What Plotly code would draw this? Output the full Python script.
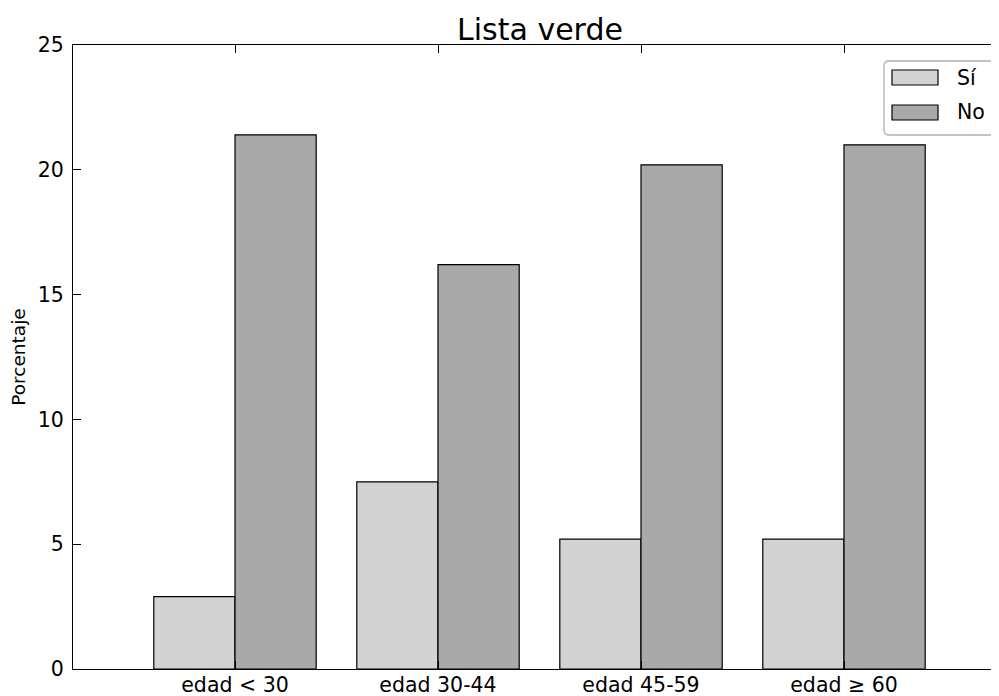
import plotly.graph_objects as go

categories = ["edad < 30", "edad 30-44", "edad 45-59", "edad ≥ 60"]
series_names = ["Sí", "No"]
si_values = [2.9, 7.5, 5.2, 5.2]
no_values = [21.4, 16.2, 20.2, 21.0]
y_ticks = [0, 5, 10, 15, 20, 25]
colors = ["#d3d3d3", "#a9a9a9"]

OFF = 8  # page body margin
W, H = 999 - OFF, 696 - OFF
L = 73 - OFF
T = 45 - OFF
B = H - (669 - OFF)
R = 0
PW, PH = W - L - R, H - T - B
FONT = "DejaVu Sans"
TICK_SIZE = 20.5

positions = list(range(len(categories)))

fig = go.Figure()
for name, vals, col in zip(series_names, [si_values, no_values], colors):
    fig.add_trace(go.Bar(
        x=positions, y=vals, name=name, marker_color=col,
        marker_line_color="black", marker_line_width=1.2,
        showlegend=False,
    ))

px_per_unit = 203.0
x0 = -162.0 / px_per_unit
x1 = x0 + PW / px_per_unit

fig.update_layout(
    width=W, height=H,
    margin=dict(l=L, r=R, t=T, b=B, autoexpand=False),
    paper_bgcolor="white", plot_bgcolor="white",
    barmode="group", bargap=0.2, bargroupgap=0.0,
    font=dict(family=FONT, color="black", size=TICK_SIZE),
    title=dict(text="Lista verde", x=(540 - OFF) / W, xanchor="center",
               y=1 - (29 - OFF) / H, yanchor="middle",
               font=dict(family=FONT, size=30, color="black")),
    xaxis=dict(range=[x0, x1], tickvals=positions, ticktext=categories,
               ticks="inside", ticklen=8, tickcolor="black",
               showline=True, linecolor="black", linewidth=1.3,
               showgrid=False, zeroline=False, ticklabelstandoff=-3,
               tickfont=dict(family=FONT, size=TICK_SIZE, color="black")),
    xaxis2=dict(range=[x0, x1], overlaying="x", side="top", tickvals=positions,
                showticklabels=False, ticks="inside", ticklen=8, tickcolor="black",
                showline=True, linecolor="black", linewidth=1.3,
                showgrid=False, zeroline=False),
    yaxis=dict(range=[0, 25], tickvals=y_ticks, ticks="inside", ticklen=8,
               tickcolor="black", showline=True, linecolor="black", linewidth=1.3,
               showgrid=False, zeroline=False, ticklabelstandoff=4,
               tickfont=dict(family=FONT, size=TICK_SIZE, color="black"),
               title=dict(text="Porcentaje", standoff=12,
                          font=dict(family=FONT, size=18.5, color="black"))),
    yaxis2=dict(range=[0, 25], overlaying="y", side="right", tickvals=y_ticks,
                showticklabels=False, ticks="inside", ticklen=2, tickcolor="black",
                showline=False, showgrid=False, zeroline=False),
)

fig.add_trace(go.Scatter(x=[x0], y=[0], xaxis="x2", yaxis="y2", mode="markers",
                         marker=dict(opacity=0), showlegend=False, hoverinfo="skip"))


def px2paper(px, py):
    """screen pixel -> paper coords"""
    fx, fy = px - OFF, py - OFF
    return (fx - L) / PW, (H - B - fy) / PH


# custom legend (screen pixel positions)
bx0, by0, bx1, by1 = 884, 61, 997, 135
r = 5
rx, ry = r / PW, r / PH
a, b_ = px2paper(bx0, by1)
c, d = px2paper(bx1, by0)
path = (f"M {a+rx},{b_} L {c-rx},{b_} Q {c},{b_} {c},{b_+ry} L {c},{d-ry} "
        f"Q {c},{d} {c-rx},{d} L {a+rx},{d} Q {a},{d} {a},{d-ry} L {a},{b_+ry} "
        f"Q {a},{b_} {a+rx},{b_} Z")
fig.add_shape(type="path", path=path, xref="paper", yref="paper",
              line=dict(color="#b0b0b0", width=1.3), fillcolor="white", layer="above")

swatch_y = [(70, 85), (105, 120)]
text_y = [78, 112]
for name, col, (sy0, sy1), ty in zip(series_names, colors, swatch_y, text_y):
    ax0, ay0 = px2paper(892, sy1)
    ax1, ay1 = px2paper(938, sy0)
    fig.add_shape(type="rect", xref="paper", yref="paper", x0=ax0, y0=ay0, x1=ax1, y1=ay1,
                  fillcolor=col, line=dict(color="black", width=1.2), layer="above")
    tx, typ = px2paper(955, ty)
    fig.add_annotation(x=tx, y=typ, xref="paper", yref="paper", text=name,
                       showarrow=False, xanchor="left", yanchor="middle",
                       font=dict(family=FONT, size=TICK_SIZE, color="black"))

fig.write_html("out.html")
